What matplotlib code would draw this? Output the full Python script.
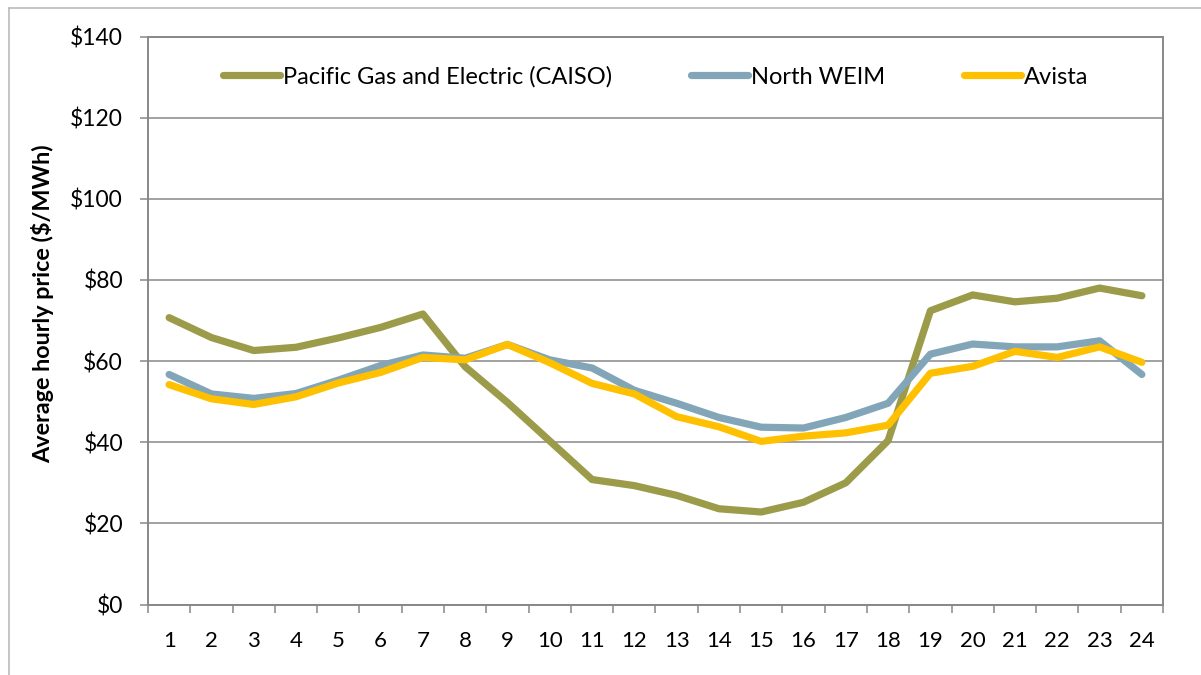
import matplotlib
matplotlib.use("Agg")
import matplotlib.pyplot as plt
from matplotlib.lines import Line2D
import numpy as np

hours = list(range(1, 25))
pge = [70.7, 65.8, 62.6, 63.4, 65.7, 68.3, 71.6, 58.6, 49.8, 40.3, 30.8, 29.3,
       26.9, 23.6, 22.8, 25.2, 30.0, 40.4, 72.4, 76.3, 74.6, 75.5, 78.0, 76.1]
north_weim = [56.7, 51.9, 50.8, 52.0, 55.3, 58.9, 61.5, 60.7, 64.1, 60.3, 58.3, 52.8,
              49.6, 46.1, 43.7, 43.5, 46.1, 49.6, 61.7, 64.2, 63.5, 63.5, 65.0, 56.7]
avista = [54.2, 50.7, 49.3, 51.2, 54.6, 57.2, 60.9, 60.3, 64.1, 59.6, 54.5, 51.9,
          46.3, 43.8, 40.2, 41.5, 42.3, 44.2, 57.0, 58.7, 62.4, 60.9, 63.5, 59.7]
series_names = ["Pacific Gas and Electric (CAISO)", "North WEIM", "Avista"]
series_colors = ["#9B9B4A", "#82A6B8", "#FFC000"]
y_ticks = [0, 20, 40, 60, 80, 100, 120, 140]
y_tick_labels = ["$0", "$20", "$40", "$60", "$80", "$100", "$120", "$140"]
y_label = "Average hourly price ($/MWh)"

plt.rcParams['font.family'] = ['Lato', 'DejaVu Sans']

W, H = 1201, 675
fig = plt.figure(figsize=(W / 100, H / 100), dpi=100)
ax = fig.add_axes([148 / W, 1 - 604.5 / H, (1163 - 148) / W, (604.5 - 36.5) / H])

grid_col = "#888888"
for name, vals, col in zip(series_names, [pge, north_weim, avista], series_colors):
    ax.plot(hours, vals, color=col, lw=5.2, solid_capstyle='round',
            solid_joinstyle='round', label=name, zorder=3)

ax.set_xlim(0.5, 24.5)
ax.set_ylim(0, 140)
ax.set_yticks(y_ticks)
ax.set_yticklabels(y_tick_labels)
ax.set_xticks(hours)
ax.set_xticklabels([str(h) for h in hours])
ax.set_xticks(np.arange(0.5, 25, 1), minor=True)
ax.tick_params(axis='x', which='major', length=0, pad=19, labelsize=16, colors='black')
ax.tick_params(axis='x', which='minor', length=6, width=1.1, color=grid_col, direction='out')
ax.tick_params(axis='y', which='major', length=6, width=1.1, color=grid_col, pad=12,
               labelsize=16.5)
ax.yaxis.grid(True, color=grid_col, lw=1.1, zorder=0)
ax.set_axisbelow(True)
for s in ax.spines.values():
    s.set_color(grid_col)
    s.set_linewidth(1.4)

fig.text(43 / W, 1 - 304 / H, y_label, rotation=90, ha='center', va='center',
         fontsize=16.8, fontweight='bold')

leg = ax.legend(loc='center', bbox_to_anchor=(0.5, 1 - (77 - 36.5) / (604.5 - 36.5)),
                ncol=3, frameon=False, fontsize=17, handlelength=2.4,
                handletextpad=0.13, columnspacing=3.35, borderaxespad=0)
for h in leg.get_lines():
    h.set_solid_capstyle('round')
    h.set_linewidth(5.2)

# outer chart border
fig.add_artist(Line2D([9 / W, 1], [1 - 8 / H, 1 - 8 / H], color="#bbbbbb", lw=1.2,
                      transform=fig.transFigure))
fig.add_artist(Line2D([9 / W, 9 / W], [0, 1 - 8 / H], color="#bbbbbb", lw=1.2,
                      transform=fig.transFigure))

fig.savefig("out.png", dpi=100)
